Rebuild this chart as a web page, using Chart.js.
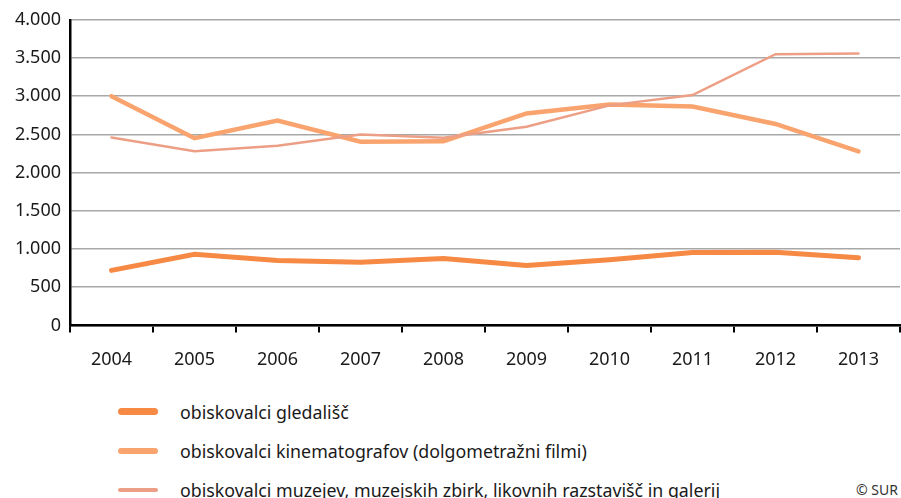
<!DOCTYPE html>
<html>
<head>
<meta charset="utf-8">
<script src="https://cdn.jsdelivr.net/npm/chart.js@4/dist/chart.umd.min.js"></script>
<style>
  html, body { margin: 0; padding: 0; background: #fff; }
  body { width: 901px; height: 498px; position: relative; overflow: hidden;
         font-family: "Noto Sans", "Open Sans", sans-serif; color: #1a1a1a; }
  .chart { position: absolute; left: 0; top: 0; width: 901px; height: 388px; }
  .legend { position: absolute; left: 118px; top: 392px; margin: 0; padding: 0; list-style: none; }
  .legend li { height: 39px; display: flex; align-items: center; font-size: 17.8px; }
  .legend span { display: inline-block; width: 40px; margin-right: 22px; border-radius: 4px; }
  .credit { position: absolute; right: 3px; top: 480px; font-size: 14px; color: #333; }
</style>
</head>
<body>
<div class="chart"><canvas id="myChart"></canvas></div>
<ul class="legend" id="legend"></ul>
<div class="credit">© SUR</div>
<script>
const years = ["2004", "2005", "2006", "2007", "2008", "2009", "2010", "2011", "2012", "2013"];
const yTicks = [0, 500, 1000, 1500, 2000, 2500, 3000, 3500, 4000];

const theatreLabel = "obiskovalci gledališč";
const cinemaLabel  = "obiskovalci kinematografov (dolgometražni filmi)";
const museumLabel  = "obiskovalci muzejev, muzejskih zbirk, likovnih razstavišč in galerij";

const theatre = [720, 930, 850, 825, 875, 785, 860, 955, 958, 885];
const cinema  = [3000, 2450, 2680, 2405, 2410, 2775, 2890, 2865, 2637, 2278];
const museum  = [2460, 2280, 2350, 2500, 2455, 2600, 2880, 3015, 3550, 3558];

function thousands(v) {
  return String(v).replace(/\B(?=(\d{3})+(?!\d))/g, ".");
}

const series = [
  { label: theatreLabel, data: theatre, color: "#f68a45", width: 5, legendHeight: 7 },
  { label: cinemaLabel,  data: cinema,  color: "#f9a46e", width: 4.5, legendHeight: 6 },
  { label: museumLabel,  data: museum,  color: "#ec9f85", width: 2.5, legendHeight: 4 }
];

Chart.defaults.font.family = '"Noto Sans", "Open Sans", sans-serif';
Chart.defaults.font.size = 18;
Chart.defaults.color = "#1a1a1a";

new Chart(document.getElementById("myChart"), {
  type: "line",
  data: {
    labels: years,
    datasets: series.slice().reverse().map(s => ({
      label: s.label,
      data: s.data,
      borderColor: s.color,
      backgroundColor: s.color,
      borderWidth: s.width,
      borderCapStyle: "round",
      pointRadius: 0,
      tension: 0
    }))
  },
  options: {
    responsive: true,
    maintainAspectRatio: false,
    animation: false,
    layout: { padding: { top: 10, right: 1, left: 0, bottom: 0 } },
    plugins: { legend: { display: false }, tooltip: { enabled: false } },
    scales: {
      x: {
        offset: true,
        grid: { offset: true, drawOnChartArea: false, drawTicks: true, tickLength: 7, color: "#000", lineWidth: 2 },
        border: { color: "#000", width: 2.5 },
        ticks: { padding: 17, maxRotation: 0 }
      },
      y: {
        min: 0,
        max: 4000,
        afterFit: scale => { scale.width = 70; },
        afterBuildTicks: scale => { scale.ticks = yTicks.map(v => ({ value: v })); },
        grid: { color: "#a8a8a8", lineWidth: 1.5, drawTicks: false },
        border: { color: "#000", width: 2.5 },
        ticks: { padding: 9, callback: v => thousands(v) }
      }
    }
  }
});

// legend list below the chart
const legend = document.getElementById("legend");
series.forEach(s => {
  const li = document.createElement("li");
  const swatch = document.createElement("span");
  swatch.style.background = s.color;
  swatch.style.height = s.legendHeight + "px";
  li.appendChild(swatch);
  li.appendChild(document.createTextNode(s.label));
  legend.appendChild(li);
});
</script>
</body>
</html>
